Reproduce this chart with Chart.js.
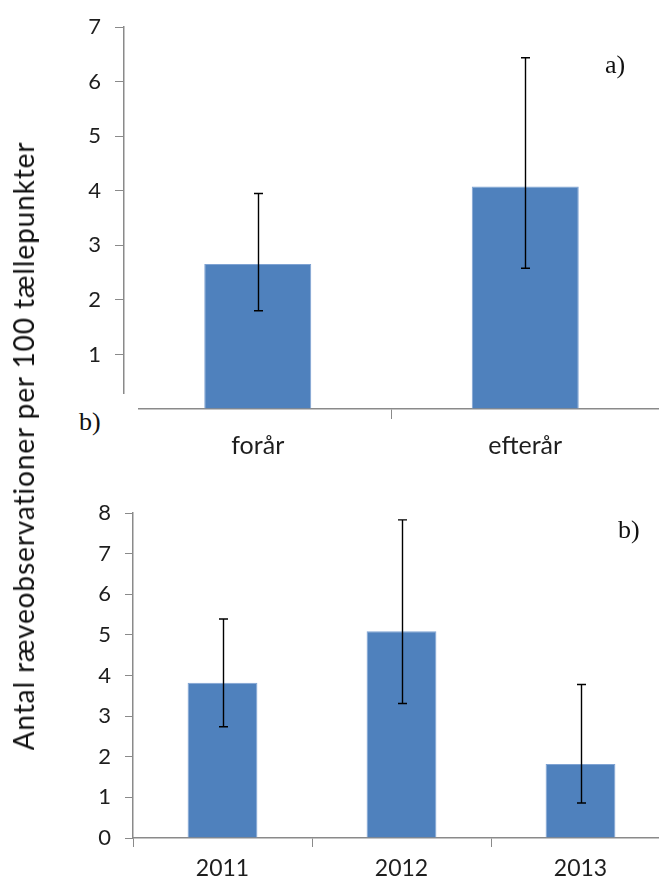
<!DOCTYPE html>
<html>
<head>
<meta charset="utf-8">
<script src="https://cdn.jsdelivr.net/npm/chart.js@4/dist/chart.umd.min.js"></script>
<style>
  html, body { margin: 0; padding: 0; background: #fff; width: 659px; height: 883px; overflow: hidden; }
  #wrap { position: relative; width: 659px; height: 883px; overflow: hidden; }
  canvas { position: absolute; }
  #c1 { left: 0; top: 0; }
  #c2 { left: 0; top: 480px; }
  .lbl { position: absolute; font-family: "Liberation Serif", "DejaVu Serif", serif; font-size: 26px; color: #111; line-height: 1; }
  #cover { position: absolute; left: 46px; top: 394px; width: 92px; height: 52px; background: #fff; }
  #ytitle { position: absolute; left: 23px; top: 446px; transform: translate(-50%, -50%) rotate(-90deg);
            white-space: nowrap; font-family: Lato, "Open Sans", sans-serif; font-size: 28px; letter-spacing: 0.9px; color: #111; }
</style>
</head>
<body>
<div id="wrap">
  <canvas id="c1" width="659" height="470"></canvas>
  <canvas id="c2" width="680" height="403"></canvas>
  <div id="cover"></div>
  <div class="lbl" style="left:79px; top:409px;">b)</div>
  <div class="lbl" style="left:605px; top:52px;">a)</div>
  <div class="lbl" style="left:618px; top:517px;">b)</div>
  <div id="ytitle">Antal ræveobservationer per 100 tællepunkter</div>
</div>
<script>
// ---- Data (a) season ----
const seasonLabels = ['forår', 'efterår'];
const seasonMeans  = [2.66, 4.08];
const seasonLow    = [1.80, 2.58];
const seasonHigh   = [3.95, 6.44];

// ---- Data (b) year ----
const yearLabels = ['2011', '2012', '2013'];
const yearMeans  = [3.82, 5.09, 1.82];
const yearLow    = [2.74, 3.31, 0.86];
const yearHigh   = [5.39, 7.83, 3.78];

const AXIS = '#8a8a8a';
const TXT = '#1e1e1e';

const errorBars = {
  id: 'errorBars',
  afterDatasetsDraw(chart, args, opts) {
    const ctx = chart.ctx;
    const meta = chart.getDatasetMeta(0);
    const ys = chart.scales.y;
    ctx.save();
    ctx.strokeStyle = '#000';
    ctx.lineWidth = 1.4;
    opts.low.forEach((lo, i) => {
      const x = Math.round(meta.data[i].x) + 0.5;
      const yl = ys.getPixelForValue(lo);
      const yh = ys.getPixelForValue(opts.high[i]);
      ctx.beginPath();
      ctx.moveTo(x, yl); ctx.lineTo(x, yh);
      ctx.moveTo(x - 4.5, yl); ctx.lineTo(x + 4.5, yl);
      ctx.moveTo(x - 4.5, yh); ctx.lineTo(x + 4.5, yh);
      ctx.stroke();
    });
    ctx.restore();
  }
};

function makeChart(id, labels, values, low, high, ymax, cfg) {
  return new Chart(document.getElementById(id), {
    type: 'bar',
    data: {
      labels: labels,
      datasets: [{
        data: values,
        backgroundColor: '#4f81bd',
        borderColor: '#7fa3d3',
        borderWidth: { top: 1, left: 1, right: 1, bottom: 0 },
        categoryPercentage: 1.0,
        barPercentage: cfg.barPct
      }]
    },
    options: {
      responsive: false,
      animation: false,
      devicePixelRatio: 1,
      layout: { padding: { top: cfg.top, right: cfg.right, left: 0, bottom: 0 } },
      plugins: {
        legend: { display: false },
        tooltip: { enabled: false },
        errorBars: { low: low, high: high }
      },
      scales: {
        x: {
          grid: { display: true, drawOnChartArea: false, drawTicks: true, tickLength: cfg.xTick, color: AXIS, lineWidth: 1, offset: true },
          border: { display: true, color: AXIS, width: 1.5 },
          ticks: { color: TXT, font: { family: 'Lato', size: cfg.xFont }, padding: cfg.xPad },
          afterFit: s => { s.height = cfg.xH; }
        },
        y: {
          min: 0, max: ymax,
          grid: { display: true, drawOnChartArea: false, drawTicks: true, tickLength: cfg.yTick, color: AXIS, lineWidth: 1 },
          border: { display: true, color: AXIS, width: 1.5 },
          ticks: { stepSize: 1, color: TXT, font: { family: 'Lato', size: 22 }, padding: cfg.yPad },
          afterFit: s => { s.width = cfg.yW; }
        }
      }
    },
    plugins: [errorBars]
  });
}

makeChart('c1', seasonLabels, seasonMeans, seasonLow, seasonHigh, 7,
  { barPct: 0.40, top: 23, right: 0, yW: 124, xH: 61, xTick: 10, xPad: 12, xFont: 25, yTick: 9, yPad: 14 });
makeChart('c2', yearLabels, yearMeans, yearLow, yearHigh, 8,
  { barPct: 0.39, top: 33, right: 10, yW: 133, xH: 45, xTick: 9, xPad: 8, xFont: 23, yTick: 8, yPad: 14 });
</script>
</body>
</html>
